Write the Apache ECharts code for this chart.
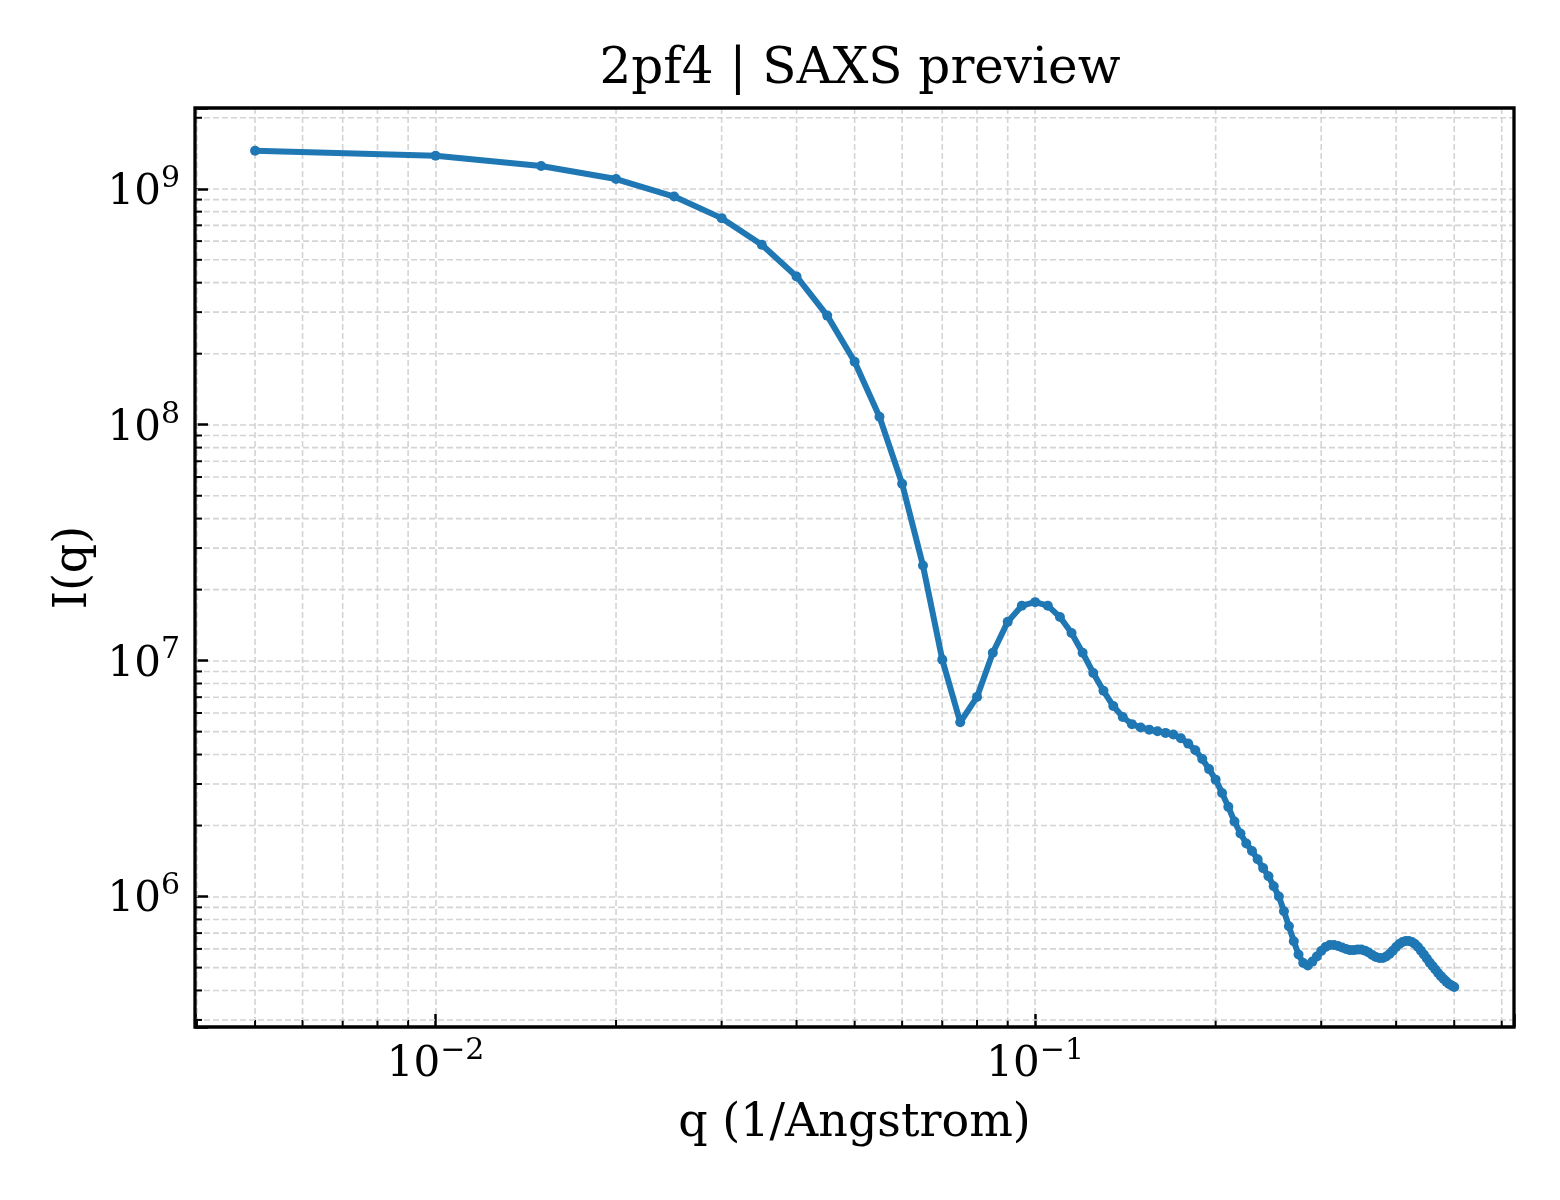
<!DOCTYPE html>
<html>
<head>
<meta charset="utf-8">
<title>2pf4 | SAXS preview</title>
<script src="https://cdn.jsdelivr.net/npm/echarts@6/dist/echarts.min.js"></script>
<style>
  html, body { margin: 0; padding: 0; background: #fff; }
  #chart { width: 1560px; height: 1200px; }
</style>
</head>
<body>
<div id="chart"></div>
<script>
// scattering vector q (1/Angstrom)
const qValues = [
    0.005, 0.010, 0.015, 0.020, 0.025, 0.030, 0.035, 0.040, 0.045, 0.050,
    0.055, 0.060, 0.065, 0.070, 0.075, 0.080, 0.085, 0.090, 0.095, 0.100,
    0.105, 0.110, 0.115, 0.120, 0.125, 0.130, 0.135, 0.140, 0.145, 0.150,
    0.155, 0.160, 0.165, 0.170, 0.175, 0.180, 0.185, 0.190, 0.195, 0.200,
    0.205, 0.210, 0.215, 0.220, 0.225, 0.230, 0.235, 0.240, 0.245, 0.250,
    0.255, 0.260, 0.265, 0.270, 0.275, 0.280, 0.285, 0.290, 0.295, 0.300,
    0.305, 0.310, 0.315, 0.320, 0.325, 0.330, 0.335, 0.340, 0.345, 0.350,
    0.355, 0.360, 0.365, 0.370, 0.375, 0.380, 0.385, 0.390, 0.395, 0.400,
    0.405, 0.410, 0.415, 0.420, 0.425, 0.430, 0.435, 0.440, 0.445, 0.450,
    0.455, 0.460, 0.465, 0.470, 0.475, 0.480, 0.485, 0.490, 0.495, 0.500
];

// intensity I(q)
const intensity = [
    1.45e9, 1.38e9, 1.25e9, 1.10e9, 9.27e8, 7.51e8, 5.79e8, 4.25e8, 2.90e8, 1.85e8,
    1.08e8, 5.62e7, 2.53e7, 1.01e7, 5.48e6, 7.02e6, 1.08e7, 1.46e7, 1.71e7, 1.77e7,
    1.71e7, 1.53e7, 1.31e7, 1.08e7, 8.87e6, 7.45e6, 6.42e6, 5.77e6, 5.38e6, 5.21e6,
    5.10e6, 5.02e6, 4.94e6, 4.86e6, 4.69e6, 4.45e6, 4.17e6, 3.83e6, 3.47e6, 3.13e6,
    2.75e6, 2.40e6, 2.08e6, 1.85e6, 1.68e6, 1.56e6, 1.44e6, 1.32e6, 1.22e6, 1.106e6,
    1.00e6, 8.66e5, 7.48e5, 6.47e5, 5.68e5, 5.23e5, 5.10e5, 5.30e5, 5.57e5, 5.88e5,
    6.11e5, 6.23e5, 6.23e5, 6.17e5, 6.08e5, 5.99e5, 5.93e5, 5.93e5, 5.96e5, 5.96e5,
    5.90e5, 5.79e5, 5.65e5, 5.54e5, 5.49e5, 5.49e5, 5.57e5, 5.71e5, 5.90e5, 6.11e5,
    6.29e5, 6.42e5, 6.48e5, 6.48e5, 6.42e5, 6.29e5, 6.11e5, 5.90e5, 5.68e5, 5.46e5,
    5.25e5, 5.08e5, 4.91e5, 4.74e5, 4.60e5, 4.47e5, 4.36e5, 4.26e5, 4.20e5, 4.14e5
];

// minor tick positions (log axes)
const xMinorTicks = [
    0.004, 0.005, 0.006, 0.007, 0.008, 0.009,
    0.02, 0.03, 0.04, 0.05, 0.06, 0.07, 0.08, 0.09,
    0.2, 0.3, 0.4, 0.5, 0.6
];
const yMinorTicks = [
    3e5, 4e5, 5e5, 6e5, 7e5, 8e5, 9e5,
    2e6, 3e6, 4e6, 5e6, 6e6, 7e6, 8e6, 9e6,
    2e7, 3e7, 4e7, 5e7, 6e7, 7e7, 8e7, 9e7,
    2e8, 3e8, 4e8, 5e8, 6e8, 7e8, 8e8, 9e8,
    2e9
];

const xRange = [0.00397, 0.629];
const yRange = [2.8e5, 2.2e9];

const FONT = 'DejaVu Serif';
const gridLineStyle = { stroke: '#d4d4d4', lineWidth: 1.6, lineDash: [6, 3] };
const minorTickStyle = { stroke: '#000', lineWidth: 2 };

function powLabel(v) {
    const lg = Math.log10(v);
    const e = Math.round(lg);
    if (Math.abs(lg - e) > 1e-6) return '';
    return '{b|10}{s|' + (e < 0 ? '\u2212' + (-e) : e) + '}';
}

const labelRich = {
    b: { fontFamily: FONT, fontSize: 42, color: '#000', lineHeight: 50, verticalAlign: 'bottom' },
    s: { fontFamily: FONT, fontSize: 30, color: '#000', lineHeight: 30, verticalAlign: 'top' }
};

// minor grid lines + short inward ticks, and the frame on top
function renderMinor(params, api) {
    const cs = params.coordSys;
    const kind = api.value(2);
    const bottom = cs.y + cs.height;
    if (kind === 2) {
        return {
            type: 'rect',
            z2: 100,
            shape: { x: cs.x, y: cs.y, width: cs.width, height: cs.height },
            style: { fill: null, stroke: '#000', lineWidth: 3.3 }
        };
    }
    const p = api.coord([api.value(0), api.value(1)]);
    if (kind === 0) {
        return {
            type: 'group',
            children: [
                { type: 'line', shape: { x1: p[0], y1: cs.y, x2: p[0], y2: bottom }, style: gridLineStyle },
                { type: 'line', shape: { x1: p[0], y1: bottom, x2: p[0], y2: bottom - 7 }, style: minorTickStyle }
            ]
        };
    }
    return {
        type: 'group',
        children: [
            { type: 'line', shape: { x1: cs.x, y1: p[1], x2: cs.x + cs.width, y2: p[1] }, style: gridLineStyle },
            { type: 'line', shape: { x1: cs.x, y1: p[1], x2: cs.x + 7, y2: p[1] }, style: minorTickStyle }
        ]
    };
}

const minorData = xMinorTicks.map(v => [v, yRange[0], 0])
    .concat(yMinorTicks.map(v => [xRange[0], v, 1]));

const chart = echarts.init(document.getElementById('chart'));

const option = {
    animation: false,
    backgroundColor: '#fff',
    title: {
        text: '2pf4 | SAXS preview',
        left: 855,
        textAlign: 'center',
        top: 40,
        textStyle: { fontFamily: FONT, fontSize: 50, fontWeight: 'normal', color: '#000' }
    },
    grid: {
        left: 195,
        right: 46,
        top: 108,
        bottom: 173,
        show: false
    },
    xAxis: {
        type: 'log',
        logBase: 10,
        min: xRange[0],
        max: xRange[1],
        name: 'q (1/Angstrom)',
        nameLocation: 'middle',
        nameGap: 74,
        nameTextStyle: { fontFamily: FONT, fontSize: 46, color: '#000' },
        axisLine: { show: false },
        axisTick: { show: true, inside: true, length: 13, lineStyle: { color: '#000', width: 2.5 } },
        axisLabel: { margin: 9, formatter: powLabel, rich: labelRich },
        splitLine: {
            show: true, showMinLine: false, showMaxLine: false,
            lineStyle: { color: '#d4d4d4', width: 1.6, type: [6, 3] }
        }
    },
    yAxis: {
        type: 'log',
        logBase: 10,
        min: yRange[0],
        max: yRange[1],
        name: 'I(q)',
        nameLocation: 'middle',
        nameGap: 98,
        nameRotate: 90,
        nameTextStyle: { fontFamily: FONT, fontSize: 46, color: '#000' },
        axisLine: { show: false },
        axisTick: { show: true, inside: true, length: 13, lineStyle: { color: '#000', width: 2.5 } },
        axisLabel: { margin: 15, formatter: powLabel, rich: labelRich },
        splitLine: {
            show: true, showMinLine: false, showMaxLine: false,
            lineStyle: { color: '#d4d4d4', width: 1.6, type: [6, 3] }
        }
    },
    series: [
        {
            type: 'custom',
            silent: true,
            clip: false,
            z: 1,
            renderItem: renderMinor,
            data: minorData
        },
        {
            name: 'I(q)',
            type: 'line',
            z: 3,
            data: qValues.map((q, i) => [q, intensity[i]]),
            symbol: 'circle',
            symbolSize: 10,
            showSymbol: true,
            itemStyle: { color: '#1f77b4' },
            lineStyle: { color: '#1f77b4', width: 6 }
        },
        {
            type: 'custom',
            silent: true,
            clip: false,
            z: 5,
            renderItem: renderMinor,
            data: [[xRange[0], yRange[0], 2]]
        }
    ]
};

chart.setOption(option);
</script>
</body>
</html>
